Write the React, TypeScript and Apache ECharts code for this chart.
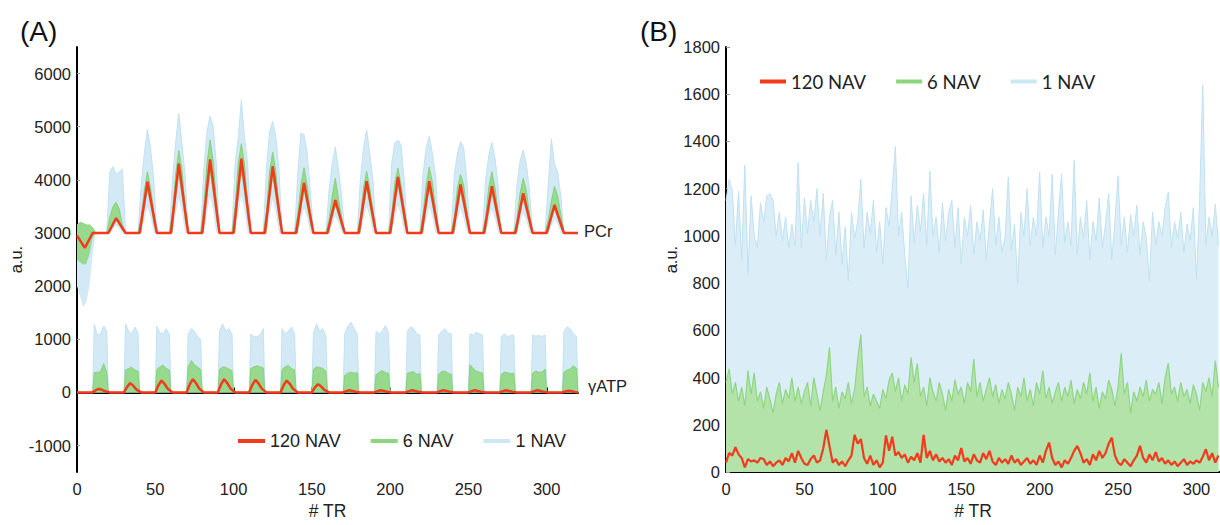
import React, { useEffect, useRef } from "react";
import * as echarts from "echarts";

// ---------- Panel A : PCr (bands & line vertices, TR) ----------
const xPCr = [0,2,4,6,8,10,12,
19,21,23,25,27,29,31, 39,41,43,45,47,49,51, 59,61,63,65,67,69,71, 79,81,83,85,87,89,91,
99,101,103,105,107,109,111, 119,121,123,125,127,129,131, 139,141,143,145,147,149,151,
159,161,163,165,167,169,171, 179,181,183,185,187,189,191, 199,201,203,205,207,209,211,
219,221,223,225,227,229,231, 239,241,243,245,247,249,251, 259,261,263,265,267,269,271,
279,281,283,285,287,289,291, 299,301,303,305,307,309,311, 320];

const greenLoPCr = [2500,2450,2400,2420,2600,2900,3000,
3000,3000,3126,3224,3140,3042,3000, 3000,3000,3433,3770,3482,3144,3000,
3000,3000,3587,4043,3652,3196,3000, 3000,3000,3623,4108,3693,3208,3000,
3000,3000,3629,4118,3699,3210,3000, 3000,3000,3565,4004,3628,3188,3000,
3000,3000,3425,3755,3472,3142,3000, 3000,3000,3279,3496,3310,3093,3000,
3000,3000,3439,3780,3488,3146,3000, 3000,3000,3475,3845,3528,3158,3000,
3000,3000,3439,3780,3488,3146,3000, 3000,3000,3411,3730,3457,3137,3000,
3000,3000,3397,3706,3441,3132,3000, 3000,3000,3335,3596,3373,3112,3000,
3000,3000,3237,3422,3264,3079,3000, 3000];

const greenHiPCr = [3150,3200,3180,3150,3150,3100,3000,
3000,3300,3500,3580,3450,3150,3000, 3000,3300,3800,4150,3850,3400,3000,
3000,3400,4100,4550,4200,3500,3000, 3000,3500,4300,4750,4350,3600,3000,
3000,3500,4300,4680,4300,3550,3000, 3000,3400,4150,4520,4150,3500,3000,
3000,3350,3900,4230,3900,3400,3000, 3000,3250,3700,4030,3650,3300,3000,
3000,3300,3850,4160,3850,3400,3000, 3000,3350,3950,4220,3900,3450,3000,
3000,3350,3900,4240,3950,3450,3000, 3000,3300,3850,4100,3900,3400,3000,
3000,3300,3850,4150,3850,3400,3000, 3000,3250,3750,4030,3800,3350,3000,
3000,3250,3600,3880,3700,3350,3000, 3000];

const blueLoPCr = [2000,1800,1600,1700,2000,2600,3000,
3000,3000,3070,3140,3084,3000,3000, 3000,3000,3241,3482,3289,3000,3000,
3000,3000,3326,3652,3391,3000,3000, 3000,3000,3346,3693,3416,3000,3000,
3000,3000,3349,3699,3419,3000,3000, 3000,3000,3314,3628,3377,3000,3000,
3000,3000,3236,3472,3283,3000,3000, 3000,3000,3155,3310,3186,3000,3000,
3000,3000,3244,3488,3293,3000,3000, 3000,3000,3264,3528,3317,3000,3000,
3000,3000,3244,3488,3293,3000,3000, 3000,3000,3228,3457,3274,3000,3000,
3000,3000,3221,3441,3265,3000,3000, 3000,3000,3186,3373,3224,3000,3000,
3000,3000,3132,3264,3158,3000,3000, 3000];

const blueHiPCr = [3100,3150,3150,3100,3100,3050,3000,
3000,4150,4250,4100,4150,4200,3000, 3000,3900,4500,4950,4600,4000,3000,
3000,4000,4700,5250,4700,4100,3000, 3000,4200,4900,5200,5000,4300,3000,
3000,4300,4800,5500,4800,4300,3000, 3000,4200,4900,5100,4800,4200,3000,
3000,4100,4880,4850,4500,3800,3000, 3000,3800,4300,4620,4200,3700,3000,
3000,4000,4600,4940,4500,4000,3000, 3000,4300,4700,4750,4650,4000,3000,
3000,4100,4600,4820,4500,4100,3000, 3000,4100,4500,4720,4600,4000,3000,
3000,4000,4450,4700,4400,3900,3000, 3000,3900,4350,4560,4300,3800,3000,
3000,3900,4770,4300,4150,3700,3000, 3000];

const xRedPCr = [0,5,10, 20,25,31, 40,45,51, 60,65,71, 80,85,91, 100,105,111, 120,125,131,
140,145,151, 160,165,171, 180,185,191, 200,205,211, 220,225,231, 240,245,251, 260,265,271,
280,285,291, 300,305,311, 320];
const redPCr = [2950,2720,3000, 3000,3280,3000, 3000,3963,3000, 3000,4304,3000, 3000,4385,3000,
3000,4397,3000, 3000,4255,3000, 3000,3944,3000, 3000,3620,3000, 3000,3975,3000, 3000,4056,3000,
3000,3975,3000, 3000,3913,3000, 3000,3882,3000, 3000,3745,3000, 3000,3527,3000, 3000];

// ---------- Panel A : gamma-ATP ----------
const xATP = [0,
10,11,13,15,17,19,20, 30,31,33,35,37,39,40, 50,51,53,55,57,59,60, 70,71,73,75,77,79,80,
90,91,93,95,97,99,100, 110,111,113,115,117,119,120, 130,131,133,135,137,139,140,
150,151,153,155,157,159,160, 170,171,173,175,177,179,180, 190,191,193,195,197,199,200,
210,211,213,215,217,219,220, 230,231,233,235,237,239,240, 250,251,253,255,257,259,260,
270,271,273,275,277,279,280, 290,291,293,295,297,299,300, 310,311,313,315,317,319,320];

const greenHiATP = [0,
0,370,380,390,540,380,0, 0,420,450,470,420,400,0, 0,430,480,510,450,420,0, 0,480,600,520,480,430,0,
0,430,480,470,440,410,0, 0,450,480,500,480,460,0, 0,430,480,510,450,420,0, 0,430,480,470,450,400,0,
0,320,360,380,360,370,0, 0,330,380,410,370,360,0, 0,360,380,390,340,350,0, 0,340,390,400,360,340,0,
0,520,450,400,380,360,0, 0,340,380,370,350,360,0, 0,360,400,380,380,440,0, 0,380,420,440,500,450,0];

const blueHiATP = [0,
0,1280,1080,1100,1250,1150,0, 0,1290,1150,1100,1230,1120,0, 0,1250,1120,1100,1200,1080,0,
0,1100,1200,1150,1050,1000,0, 0,1150,1290,1150,1200,1100,0, 0,1100,1050,1050,1080,1200,0,
0,1200,1100,1150,1230,1100,0, 0,1100,1290,1150,1200,1050,0, 0,1100,1250,1320,1200,1100,0,
0,1150,1100,1150,1260,1120,0, 0,1150,1230,1200,1100,1080,0, 0,1080,1150,1200,1120,1100,0,
0,1100,1080,1130,1100,1080,0, 0,1050,1100,1050,1070,1080,0, 0,1080,1060,1070,1050,1080,0,
0,1150,1230,1200,1100,1050,0];

const xRedATP = [0,
10,12,14,16,18,21, 30,32,34,36,38,41, 50,52,54,56,58,61, 70,72,74,76,78,81,
90,92,94,96,98,101, 110,112,114,116,118,121, 130,132,134,136,138,141, 150,152,154,156,158,161,
170,172,174,176,178,181, 190,192,194,196,198,201, 210,212,214,216,218,221, 230,232,234,236,238,241,
250,252,254,256,258,261, 270,272,274,276,278,281, 290,292,294,296,298,301, 310,312,314,316,318,320];
const redATP = [0,
0,41,68,48,20,0, 0,104,174,122,52,0, 0,134,224,157,67,0, 0,149,248,174,74,0,
0,149,248,174,74,0, 0,142,236,165,71,0, 0,134,224,157,67,0, 0,93,155,109,47,0,
0,24,40,28,12,0, 0,24,40,28,12,0, 0,24,40,28,12,0, 0,24,40,28,12,0,
0,24,40,28,12,0, 0,24,40,28,12,0, 0,24,40,28,12,0, 0,18,30,21,9,0];

// ---------- Panel B : noise (every 2nd TR) ----------
const xB = [0,2,4,6,8,10,12,14,16,18,20,22,24,26,28,30,32,34,36,38,40,42,44,46,48,50,52,54,56,58,
60,62,64,66,68,70,72,74,76,78,80,82,84,86,88,90,92,94,96,98,100,102,104,106,108,110,112,114,116,118,
120,122,124,126,128,130,132,134,136,138,140,142,144,146,148,150,152,154,156,158,160,162,164,166,168,
170,172,174,176,178,180,182,184,186,188,190,192,194,196,198,200,202,204,206,208,210,212,214,216,218,
220,222,224,226,228,230,232,234,236,238,240,242,244,246,248,250,252,254,256,258,260,262,264,266,268,
270,272,274,276,278,280,282,284,286,288,290,292,294,296,298,300,302,304,306,308,310,312,314];

const blueB = [1150,1240,1190,960,1190,900,1300,840,1170,1000,950,1140,1060,1170,1180,1150,1000,1100,980,1080,
950,1050,960,1310,950,1160,1010,1150,1060,1200,1000,1180,900,1080,1150,920,1100,880,1040,810,
1100,990,1060,1240,950,1100,1010,1150,930,1060,880,1120,1040,1200,1380,1000,1100,920,780,1170,
970,1130,1020,1180,960,1275,1000,1080,930,1140,980,1100,1150,950,1120,880,1080,1000,1130,920,
1060,980,1110,900,1050,1200,960,1080,930,1000,1250,940,1050,800,1100,1000,1200,960,1080,1000,
1270,950,1080,1000,1260,920,1100,1260,970,1060,960,1320,920,1080,990,1150,900,1060,980,1160,
950,1050,1180,900,1060,1255,960,1080,930,1090,1000,1130,920,1060,990,810,1100,960,1060,1000,
1120,1185,950,1060,990,1100,930,1050,980,1120,820,1150,1640,960,1080,1000,1135,960];

const greenB = [380,437,330,380,300,360,280,430,330,420,300,340,270,360,310,250,330,380,290,350,
310,400,300,360,290,340,380,280,400,330,260,340,410,528,300,360,270,340,310,380,
290,350,480,583,320,360,280,330,300,270,350,310,390,420,340,400,300,370,330,486,
380,460,320,360,280,400,340,300,380,330,260,350,300,390,330,360,290,380,340,479,
320,380,300,350,400,320,370,290,350,310,380,330,260,360,320,400,300,350,280,380,
330,430,310,360,290,340,380,300,360,320,390,290,350,310,380,330,420,300,360,270,
340,310,390,350,280,360,503,330,380,250,340,300,360,320,390,300,350,330,380,290,
400,461,330,360,300,380,320,350,290,370,330,260,380,340,400,320,472,360];

const redB = [40,81,70,106,75,60,20,55,45,50,40,60,55,30,45,25,40,50,30,60,
45,80,40,90,60,35,30,55,70,40,50,100,179,110,40,55,30,45,25,50,
70,158,120,140,60,35,70,30,50,20,40,155,90,150,70,85,60,75,40,65,
50,80,40,158,60,90,50,75,45,60,40,55,30,70,50,102,45,60,35,75,
50,40,80,55,90,45,30,60,40,55,35,70,40,55,30,45,60,35,50,30,
70,40,90,125,60,30,45,20,50,35,60,90,111,80,40,55,30,75,50,90,
60,80,120,146,70,40,30,55,40,25,50,70,111,60,40,75,50,85,45,60,
35,50,30,45,25,40,55,30,45,35,50,40,65,97,50,80,40,70];

const yTicksA = [-1000, 0, 1000, 2000, 3000, 4000, 5000, 6000];
const legendNames = ["120 NAV", "6 NAV", "1 NAV"];

const RED = "#f23a1c";
const GREEN_A = "#97d98d";
const GREEN_A_EDGE = "#86d27b";
const BLUE_A = "#d3eaf6";
const BLUE_A_EDGE = "#c2e2f2";
const GREEN_B = "#b3e3a9";
const GREEN_B_EDGE = "#8fd684";
const BLUE_B = "#dbeef8";
const BLUE_B_EDGE = "#bfe1f1";

const FONT = "Liberation Sans, Arial, sans-serif";

const zip = (xs: number[], ys: number[]) => xs.map((x, i) => [x, ys[i]]);

// band (lo..hi) drawn as a polygon through the axis scales
function bandSeries(name: string, xs: number[], lo: number[], hi: number[], fill: string, edge: string, z: number) {
  return {
    type: "custom",
    name,
    xAxisIndex: 0,
    yAxisIndex: 0,
    silent: true,
    clip: true,
    z,
    itemStyle: { color: fill },
    data: [[xs[0], hi[0]]],
    renderItem: (_params: any, api: any) => {
      const top = xs.map((x, i) => api.coord([x, hi[i]]));
      const bottom = xs.map((x, i) => api.coord([x, lo[i]])).reverse();
      return {
        type: "group",
        children: [
          { type: "polygon", shape: { points: top.concat(bottom) }, style: { fill, stroke: null } },
          { type: "polyline", shape: { points: top }, style: { fill: null, stroke: edge, lineWidth: 1 } },
        ],
      };
    },
  };
}

export default function App() {
  const ref = useRef<HTMLDivElement>(null);
  useEffect(() => {
    if (!ref.current) return;
    const chart = echarts.init(ref.current, null, { renderer: "svg" });
    const axisLine = { show: true, lineStyle: { color: "#000", width: 2 } };
    const fmt = (v: number) => String(v);
    const labelStyle = { color: "#222", fontSize: 16.5, fontFamily: FONT, formatter: fmt };
    const xAxisBase = {
      type: "value",
      min: 0,
      interval: 50,
      axisLine,
      axisTick: { show: true, inside: true, length: 5, lineStyle: { color: "#000", width: 2 } },
      axisLabel: { ...labelStyle, margin: 8, showMaxLabel: false },
      splitLine: { show: false },
      name: "# TR",
      nameLocation: "middle",
      nameGap: 28,
      nameTextStyle: { color: "#222", fontSize: 17.5, fontFamily: FONT },
    };
    const option: any = {
      animation: false,
      grid: [
        { left: 77, right: 642, top: 47, bottom: 49 },
        { left: 726, right: 0, top: 47, bottom: 49 },
      ],
      xAxis: [
        { ...xAxisBase, gridIndex: 0, max: 320 },
        { ...xAxisBase, gridIndex: 1, max: 315 },
      ],
      yAxis: [
        {
          type: "value", gridIndex: 0, min: -1500, max: 6500,
          axisLine,
          axisTick: { show: true, inside: true, length: 3, customValues: yTicksA, lineStyle: { color: "#999" } },
          axisLabel: { ...labelStyle, margin: 6, customValues: yTicksA },
          splitLine: { show: false },
          name: "a.u.", nameLocation: "middle", nameGap: 50, nameRotate: 90,
          nameTextStyle: { color: "#222", fontSize: 16.5, fontFamily: FONT },
        },
        {
          type: "value", gridIndex: 1, min: 0, max: 1800, interval: 200,
          axisLine,
          axisTick: { show: true, inside: true, length: 4, lineStyle: { color: "#999" } },
          axisLabel: { ...labelStyle, margin: 6 },
          splitLine: { show: false },
          name: "a.u.", nameLocation: "middle", nameGap: 45, nameRotate: 90,
          nameTextStyle: { color: "#222", fontSize: 16.5, fontFamily: FONT },
        },
      ],
      legend: [
        {
          left: 238, top: 432, padding: 0, itemWidth: 27, itemHeight: 4, itemGap: 30,
          selectedMode: false,
          textStyle: { color: "#222", fontSize: 18, fontFamily: FONT },
          data: [
            { name: legendNames[0], icon: "rect", itemStyle: { color: RED, borderWidth: 0 } },
            { name: legendNames[1], icon: "rect", itemStyle: { color: "#8cd67f", borderWidth: 0 } },
            { name: legendNames[2], icon: "rect", itemStyle: { color: "#cce8f5", borderWidth: 0 } },
          ],
        },
        {
          left: 760, top: 72, padding: 0, itemWidth: 26, itemHeight: 4, itemGap: 30,
          selectedMode: false,
          textStyle: { color: "#222", fontSize: 18.5, fontFamily: "Lato, sans-serif" },
          data: [
            { name: legendNames[0], icon: "rect", itemStyle: { color: RED, borderWidth: 0 } },
            { name: legendNames[1], icon: "rect", itemStyle: { color: "#8cd67f", borderWidth: 0 } },
            { name: legendNames[2], icon: "rect", itemStyle: { color: "#cce8f5", borderWidth: 0 } },
          ],
        },
      ],
      graphic: [
        { type: "text", x: 20, y: 31, style: { text: "(A)", fontSize: 28, fontFamily: FONT, fill: "#111", verticalAlign: "middle" } },
        { type: "text", x: 640, y: 31, style: { text: "(B)", fontSize: 28, fontFamily: FONT, fill: "#111", verticalAlign: "middle" } },
        { type: "text", x: 584, y: 231, style: { text: "PCr", fontSize: 16.5, fontFamily: FONT, fill: "#222", verticalAlign: "middle" } },
        { type: "text", x: 588, y: 386, style: { text: "γATP", fontSize: 16.5, fontFamily: FONT, fill: "#222", verticalAlign: "middle" } },
      ],
      series: [
        // ---- Panel A : 1 NAV (blue) ----
        bandSeries("1 NAV", xPCr, blueLoPCr, blueHiPCr, BLUE_A, BLUE_A_EDGE, 1),
        {
          type: "line", name: "1 NAV", xAxisIndex: 0, yAxisIndex: 0,
          data: zip(xATP, blueHiATP), symbol: "none", color: BLUE_A,
          lineStyle: { width: 1, color: BLUE_A_EDGE }, areaStyle: { color: BLUE_A, opacity: 1, origin: "auto" }, z: 1,
        },
        // ---- Panel A : 6 NAV (green) ----
        bandSeries("6 NAV", xPCr, greenLoPCr, greenHiPCr, GREEN_A, GREEN_A_EDGE, 2),
        {
          type: "line", name: "6 NAV", xAxisIndex: 0, yAxisIndex: 0,
          data: zip(xATP, greenHiATP), symbol: "none", color: GREEN_A,
          lineStyle: { width: 1, color: GREEN_A_EDGE }, areaStyle: { color: GREEN_A, opacity: 1, origin: "auto" }, z: 2,
        },
        // ---- Panel A : 120 NAV (red) ----
        {
          type: "line", name: "120 NAV", xAxisIndex: 0, yAxisIndex: 0,
          data: zip(xRedPCr, redPCr), symbol: "none", color: RED, lineStyle: { width: 2.5, color: RED }, z: 3,
        },
        {
          type: "line", name: "120 NAV", xAxisIndex: 0, yAxisIndex: 0,
          data: zip(xRedATP, redATP), symbol: "none", color: RED, lineStyle: { width: 2.5, color: RED }, z: 3,
        },
        // ---- Panel B ----
        {
          type: "line", name: "1 NAV", xAxisIndex: 1, yAxisIndex: 1,
          data: zip(xB, blueB), symbol: "none", color: BLUE_B,
          lineStyle: { width: 1, color: BLUE_B_EDGE }, areaStyle: { color: BLUE_B, opacity: 1, origin: "start" }, z: 1,
        },
        {
          type: "line", name: "6 NAV", xAxisIndex: 1, yAxisIndex: 1,
          data: zip(xB, greenB), symbol: "none", color: GREEN_B,
          lineStyle: { width: 1.2, color: GREEN_B_EDGE }, areaStyle: { color: GREEN_B, opacity: 1, origin: "start" }, z: 2,
        },
        {
          type: "line", name: "120 NAV", xAxisIndex: 1, yAxisIndex: 1,
          data: zip(xB, redB), symbol: "none", color: RED, lineStyle: { width: 2.2, color: RED }, z: 3,
        },
      ],
    };
    chart.setOption(option);
    return () => chart.dispose();
  }, []);
  return (
    <div
      ref={ref}
      style={{ position: "absolute", left: 0, top: 0, width: 1220, height: 525, background: "#fff" }}
    />
  );
}
